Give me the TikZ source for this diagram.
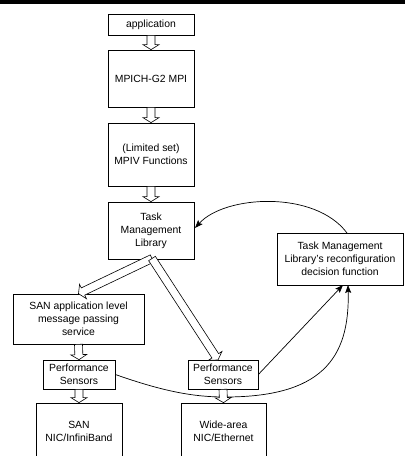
\documentclass[tikz,border=0pt]{standalone}
\usepackage{fontspec}
\setmainfont{Liberation Sans}
\usetikzlibrary{calc,arrows.meta}
\tikzset{
  box/.style={draw, line width=0.7pt, inner sep=0pt, align=center,
    font=\fontsize{10.4}{13}\selectfont},
  curvearrow/.style={line width=0.7pt, -{Stealth[length=8pt,width=6pt,inset=1.5pt]}},
  blockline/.style={line width=0.6pt, fill=white}
}
\newcommand\blockarrow[2]{%
  \coordinate (ba-b) at ($(#2)!5pt!(#1)$);
  \draw[blockline] ($(#1)!4pt!90:(#2)$) -- ($(ba-b)!4pt!90:(#2)$) -- ($(ba-b)!8pt!90:(#2)$) -- (#2)
    -- ($(ba-b)!8pt!-90:(#2)$) -- ($(ba-b)!4pt!-90:(#2)$) -- ($(#1)!4pt!-90:(#2)$) -- cycle;}
\begin{document}
\begin{tikzpicture}[x=1pt,y=-1pt]
\useasboundingbox (0,0) rectangle (405,456);
\clip (0,0) rectangle (405,456);
\fill (0,0) rectangle (405,4);
% boxes
\node[box, minimum width=86pt, minimum height=21pt] (app) at (151,24.5) {application};
\node[box, minimum width=86pt, minimum height=57pt] (mpich) at (151,78.5) {MPICH-G2 MPI};
\node[box, minimum width=86pt, minimum height=63pt] (lim) at (151,154.5) {(Limited set)\\MPIV Functions};
\node[box, minimum width=86pt, minimum height=57pt] (tml) at (151,230.5) {Task\\Management\\Library};
\node[box, minimum width=126pt, minimum height=52pt] (dec) at (340,259) {Task Management\\Library's reconfiguration\\decision function};
\node[box, minimum width=131pt, minimum height=50pt] (san) at (78.5,319) {SAN application level\\message passing\\service};
\node[box, minimum width=72pt, minimum height=29pt] (perfL) at (79,374.5) {Performance\\Sensors};
\node[box, minimum width=70pt, minimum height=29pt] (perfR) at (223,374.5) {Performance\\Sensors};
\node[box, minimum width=86pt, minimum height=56pt] (sannic) at (79,431) {SAN\\NIC/InfiniBand};
\node[box, minimum width=85pt, minimum height=56pt] (wide) at (223.5,431) {Wide-area\\NIC/Ethernet};
% helper coordinates
\coordinate (fork) at (152,258.5);
\coordinate (perfRin) at (218,360);
\coordinate (decT) at (347,233);
\coordinate (tmlR) at (195,228);
\coordinate (decB1) at (343,285);
\coordinate (decB2) at (348,285);
\coordinate (low) at (225,397);
% curved connectors
\draw[curvearrow] (decT) .. controls (315,190) and (225,195) .. (tmlR);
\draw[curvearrow] (perfR.east) -- (decB1);
\draw[curvearrow] (perfL.east) .. controls (165,392) and (195,397) .. (low)
   .. controls (320,397) and (350,360) .. (decB2);
% block arrows
\blockarrow{app.south}{mpich.north}
\blockarrow{mpich.south}{lim.north}
\blockarrow{lim.south}{tml.north}
\blockarrow{fork}{san.north}
\blockarrow{fork}{perfRin}
\blockarrow{san.south}{perfL.north}
\blockarrow{perfL.south}{sannic.north}
\blockarrow{perfR.south}{wide.north}
\end{tikzpicture}
\end{document}
